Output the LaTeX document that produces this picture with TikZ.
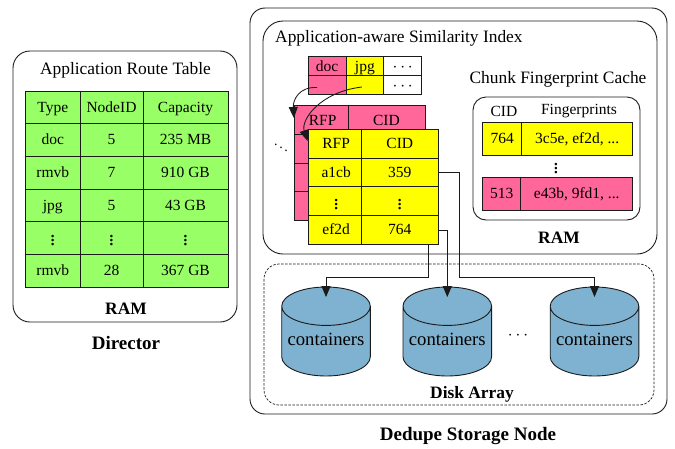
\documentclass[tikz,border=0pt]{standalone}
\usepackage{fontspec}
\setmainfont{Liberation Serif}
\usetikzlibrary{shapes.geometric,arrows.meta,calc}
\definecolor{cpink}{HTML}{FF6699}
\definecolor{cyel}{HTML}{FFFF00}
\definecolor{cgreen}{HTML}{99FF66}
\definecolor{cblue}{HTML}{7FB2D0}
\definecolor{cline}{HTML}{1A1A1A}
\newcommand{\fs}[1]{\fontsize{#1}{#1}\selectfont}
\newcommand{\vd}{\raisebox{-3pt}{\fs{21}$\vdots$}}
\newcommand{\hd}{\fs{19}$\cdots$}
\newcommand{\cellbox}[7][]{% name x1 y1 x2 y2 style text
  \pgfmathsetmacro{\cw}{#4-#2}\pgfmathsetmacro{\ch}{#5-#3}
  \pgfmathsetmacro{\cx}{(#4+#2)/2}\pgfmathsetmacro{\cy}{(#5+#3)/2}
  \node[tcell,#1,minimum width=\cw pt,minimum height=\ch pt] (#6) at (\cx,\cy) {#7};}
\tikzset{
  tcell/.style={draw=cline,line width=.8pt,inner sep=0pt,font=\fs{15.5},text height=10pt,text depth=0pt},
  outerbox/.style={draw=cline,line width=.9pt,rounded corners=#1},
  title/.style={inner sep=0pt,font=\fs{17.4}},
  boldlab/.style={inner sep=0pt,font=\fs{17.4}\bfseries},
  biglab/.style={inner sep=0pt,font=\fs{19}\bfseries},
  dots/.style={inner sep=0pt,font=\fs{15.5}},
  wire/.style={draw=cline,line width=.85pt},
  tip/.style={-{Triangle[length=11pt,width=9pt]}},
  disk/.style={cylinder,shape border rotate=90,aspect=.5,anchor=shape center,draw=cline,line width=.9pt,cylinder uses custom fill,cylinder body fill=cblue,cylinder end fill=cblue,minimum width=88.6pt,minimum height=89pt,inner sep=0pt,font=\fs{18.7}}
}
\begin{document}
\begin{tikzpicture}[x=1pt,y=-1pt]
\useasboundingbox (0,0) rectangle (675,448);
% Director
\draw[outerbox=17pt] (13,51) rectangle (237,322);
\node[title] (art) at (125.5,70.5) {Application Route Table};
\begin{scope}[every node/.append style={fill=cgreen}]
\cellbox{25.5}{91}{80}{123.5}{r0a}{Type}
\cellbox{80}{91}{143}{123.5}{r0b}{NodeID}
\cellbox{143}{91}{228}{123.5}{r0c}{Capacity}
\cellbox{25.5}{123.5}{80}{156}{r1a}{doc}
\cellbox{80}{123.5}{143}{156}{r1b}{5}
\cellbox{143}{123.5}{228}{156}{r1c}{235 MB}
\cellbox{25.5}{156}{80}{189}{r2a}{rmvb}
\cellbox{80}{156}{143}{189}{r2b}{7}
\cellbox{143}{156}{228}{189}{r2c}{910 GB}
\cellbox{25.5}{189}{80}{221}{r3a}{jpg}
\cellbox{80}{189}{143}{221}{r3b}{5}
\cellbox{143}{189}{228}{221}{r3c}{43 GB}
\cellbox{25.5}{221}{80}{254}{r4a}{\vd}
\cellbox{80}{221}{143}{254}{r4b}{\vd}
\cellbox{143}{221}{228}{254}{r4c}{\vd}
\cellbox{25.5}{254}{80}{287}{r5a}{rmvb}
\cellbox{80}{254}{143}{287}{r5b}{28}
\cellbox{143}{254}{228}{287}{r5c}{367 GB}
\end{scope}
\node[boldlab] (ramd) at (126,308.5) {RAM};
\node[biglab] (dirl) at (126,342.5) {Director};
% Storage node
\draw[outerbox=15pt] (250,8) rectangle (667,414);
\draw[outerbox=20pt] (263,21) rectangle (657,254);
\node[title,anchor=west] (asi) at (275,38.5) {Application-aware Similarity Index};
% top small table
\cellbox[fill=cpink]{308}{56.7}{346}{75.7}{hdoc}{doc}
\cellbox[fill=cyel]{346}{56.7}{383.7}{75.7}{hjpg}{jpg}
\cellbox[fill=white]{383.7}{56.7}{421.7}{75.7}{hdots}{\hd}
\cellbox[fill=cpink]{308}{75.7}{346}{94.3}{bdoc}{}
\cellbox[fill=cyel]{346}{75.7}{383.7}{94.3}{bjpg}{}
\cellbox[fill=white]{383.7}{75.7}{421.7}{94.3}{bdots}{\hd}
% pink table
\cellbox[fill=cpink]{294.3}{105.7}{348}{134.3}{pa}{\hspace*{3pt}RFP}
\cellbox[fill=cpink]{348}{105.7}{425}{134.3}{pb}{CID}
\cellbox[fill=cpink]{294.3}{134.3}{348}{163}{pc}{}
\cellbox[fill=cpink]{294.3}{163}{348}{191.7}{pd}{}
\cellbox[fill=cpink]{294.3}{191.7}{348}{220}{pe}{}
\node[dots,font=\fs{14}] (ddots) at (281,144.5) {$\ddots$};
% yellow table
\cellbox[fill=cyel]{308}{129.3}{361.3}{158}{ya}{\hspace*{3pt}RFP}
\cellbox[fill=cyel]{361.3}{129.3}{438.3}{158}{yb}{CID}
\cellbox[fill=cyel]{308}{158}{361.3}{186.8}{yc}{\hspace*{3pt}a1cb}
\cellbox[fill=cyel]{361.3}{158}{438.3}{186.8}{yd}{359}
\cellbox[fill=cyel]{308}{186.8}{361.3}{215.6}{ye}{\hspace*{3pt}\vd}
\cellbox[fill=cyel]{361.3}{186.8}{438.3}{215.6}{yf}{\vd}
\cellbox[fill=cyel]{308}{215.6}{361.3}{244.3}{yg}{\hspace*{3pt}ef2d}
\cellbox[fill=cyel]{361.3}{215.6}{438.3}{244.3}{yh}{764}
% curved arrows
\draw[wire,tip] ($(bdoc.center)+(-10,2.5)$) .. controls +(-18,-1) and +(-1,-18) .. (pa.north west |- 0,118);
\draw[wire,tip] ($(bjpg.center)+(-3,2)$) .. controls +(-42,5) and +(-7,-21) .. (ya.west |- 0,141);
% cache
\node[title] (cfc) at (558,79.5) {Chunk Fingerprint Cache};
\draw[outerbox=13pt] (473,97) rectangle (640,220);
\node[inner sep=0pt,font=\fs{15.5}] (ccid) at (504,111) {CID};
\node[inner sep=0pt,font=\fs{15.5}] (cfp) at (579,111) {Fingerprints};
\cellbox[fill=cyel]{482.7}{122.3}{521.7}{155.3}{c1}{764}
\cellbox[fill=cyel]{521.7}{122.3}{632.7}{155.3}{c2}{3c5e, ef2d, ...}
\node[dots,font=\fs{21}] (cv) at (556,166) {$\vdots$};
\cellbox[fill=cpink]{482.7}{177.3}{520.7}{210.3}{c3}{513}
\cellbox[fill=cpink]{520.7}{177.3}{632.7}{210.3}{c4}{e43b, 9fd1, ...}
\node[boldlab] (rams) at (559,237.5) {RAM};
% disks
\draw[draw=cline,line width=.7pt,dash pattern=on 2.5pt off 1.5pt,rounded corners=15pt] (264,264) rectangle (654,405);
\node[disk] (d1) at (326,331.5) {\raisebox{4pt}{containers}};
\node[disk] (d2) at (447.3,331.5) {\raisebox{4pt}{containers}};
\node[disk] (d3) at (594.5,331.5) {\raisebox{4pt}{containers}};
\node[dots,font=\fs{18}] (adots) at (518,336) {$\cdots$};
\node[boldlab] (dal) at (472,394) {Disk Array};
\node[biglab] (dsn) at (468,435.5) {Dedupe Storage Node};
% connectors
\coordinate (e1) at ($(d1.shape center)+(0,-34.5)$);
\coordinate (e2) at ($(d2.shape center)+(0,-34.5)$);
\coordinate (e3) at ($(d3.shape center)+(0,-34.5)$);
\draw[wire,tip] (yd.east) -| (459,277) -| (e3);
\draw[wire,tip] (yh.east) -| (e2);
\draw[wire,tip] (428.7,244.3) |- (e1 |- 0,277) -- (e1);
\end{tikzpicture}
\end{document}
